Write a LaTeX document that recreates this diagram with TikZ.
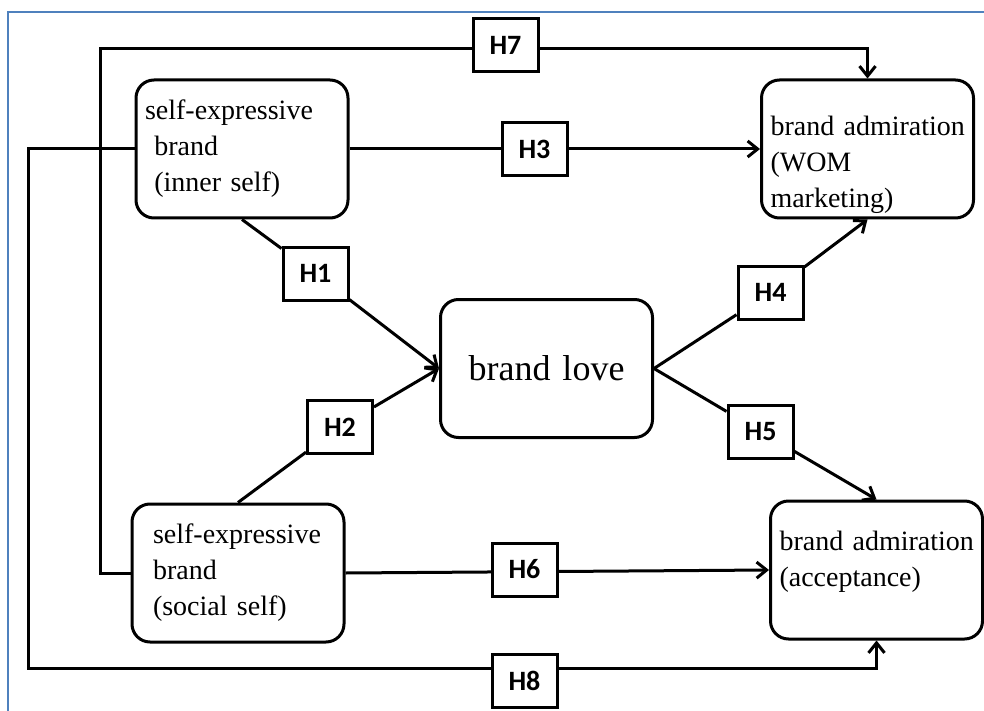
\documentclass[tikz,border=0pt]{standalone}
\usepackage{fontspec}
\setmainfont{Liberation Serif}
\newfontfamily\hypfont{Carlito}
\usetikzlibrary{arrows.meta,backgrounds}
\definecolor{frameblue}{HTML}{4F81BD}

\begin{document}
\begin{tikzpicture}[
  x=0.5pt, y=-0.5pt,
  construct/.style={draw, rounded corners=9pt, line width=1.5pt, fill=white,
               minimum width=106pt, minimum height=69pt, text width=97pt, align=left,
               inner sep=0pt, font=\fontsize{14}{18}\selectfont},
  hyp/.style={draw, line width=1.5pt, fill=white, minimum width=32.5pt, minimum height=26.5pt,
              inner sep=0pt, font=\hypfont\bfseries\fontsize{14}{16}\selectfont},
  link/.style={line width=1.5pt},
  arr/.style={link, -{Straight Barb[length=5pt,width=8pt]}}
]
\useasboundingbox (0,0) rectangle (984,711);
\draw[frameblue, line width=1pt] (8,711) -- (8,12) -- (984,12);

% constructs
\node[construct] (inner) at (242,149) {self-expressive\\\ brand\\\ (inner self)};
\node[construct] (wom) at (867.5,149) {\rule{0pt}{26pt}\mbox{brand admiration}\\(WOM\\marketing)};
\node[construct, align=center, font=\fontsize{18}{22}\selectfont] (love) at (546.5,368.5) {brand love};
\node[construct, text width=85pt] (social) at (238,573) {self-expressive\\brand\\(social self)};
\node[construct] (accept) at (876.5,570) {\mbox{brand admiration}\\(acceptance)\rule[-11pt]{0pt}{0pt}};

% hypotheses
\node[hyp] (h1) at (315.5,273.5) {H1};
\node[hyp] (h2) at (340,427) {H2};
\node[hyp] (h3) at (534.5,149) {H3};
\node[hyp] (h4) at (770.5,292.5) {H4};
\node[hyp] (h5) at (760.5,431.5) {H5};
\node[hyp] (h6) at (524.5,569.5) {H6};
\node[hyp] (h7) at (505.5,45) {H7};
\node[hyp] (h8) at (524.5,680.5) {H8};

\coordinate (c7) at (100,49);
\coordinate (c8) at (28,668);

\begin{scope}[on background layer]
\draw[link] (inner.south) -- (h1); \draw[arr] (h1) -- (love.west);
\draw[link] (social.north) -- (h2); \draw[arr] (h2) -- (love.west);
\draw[link] (love.east) -- (h4); \draw[arr] (h4) -- (wom.south);
\draw[link] (love.east) -- (h5); \draw[arr] (h5) -- (accept.north);
\draw[arr] (inner.east) -- (wom.west);
\draw[arr] (social.east) -- (accept.west);
\draw[arr] (social.west) -| (c7) -| (wom.north);
\draw[arr] (inner.west) -| (c8) -| (accept.south);
\end{scope}
\end{tikzpicture}
\end{document}
